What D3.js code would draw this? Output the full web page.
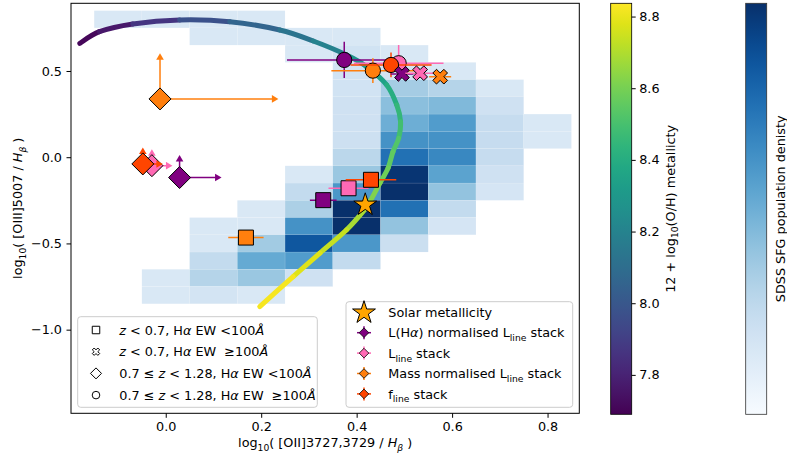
<!DOCTYPE html>
<html>
<head>
<meta charset="utf-8">
<script src="https://cdn.jsdelivr.net/npm/d3@7"></script>
<style>
  body { margin: 0; background: #fff; }
  text { font-family: "DejaVu Sans", sans-serif; }
  .pre { white-space: pre; }
</style>
</head>
<body>
<svg id="chart" width="787" height="458"></svg>
<script>
// ---------- SDSS star-forming galaxy density (2D histogram) ----------
const xBinEdges = [-0.15, -0.05, 0.05, 0.15, 0.25, 0.35, 0.45, 0.55, 0.65, 0.75, 0.85];
const yBinEdges = [0.85, 0.75, 0.65, 0.55, 0.45, 0.35, 0.25, 0.15, 0.05, -0.05, -0.15,
                   -0.25, -0.35, -0.45, -0.55, -0.65, -0.75, -0.85];
// rows run from the top y-bin downwards, columns follow xBinEdges
const sdssDensity = [
  [15, 15, 15, 15,   0,   0,   0,  0,  0,  0],
  [ 0,  0, 15, 15,  15,  15,   0,  0,  0,  0],
  [ 0,  0,  0,  0,  15,  19,  15,  0,  0,  0],
  [ 0,  0,  0,  0,   0,  19,  18, 15,  0,  0],
  [ 0,  0,  0,  0,   0,  19,  35, 30, 15,  0],
  [ 0,  0,  0,  0,   0,  20,  42, 45, 20,  0],
  [ 0,  0,  0,  0,   0,  20,  50, 58, 24, 15],
  [ 0,  0,  0,  0,   0,  21,  62, 62, 24, 15],
  [ 0,  0,  0,  0,   0,  28,  75, 66, 24,  0],
  [ 0,  0,  0,  0,  15,  38,  98, 55, 20,  0],
  [ 0,  0,  0,  0,  25,  60, 100, 40, 17,  0],
  [ 0,  0,  0, 15,  33, 100,  75, 25,  0,  0],
  [ 0,  0, 15, 15,  62, 100,  40, 17,  0,  0],
  [ 0,  0, 15, 36,  85,  60,  22,  0,  0,  0],
  [ 0,  0, 25, 52,  58,  25,   0,  0,  0,  0],
  [ 0, 15, 30, 38,  20,   0,   0,  0,  0,  0],
  [ 0, 15, 18, 15,   0,   0,   0,  0,  0,  0]
];

// ---------- metallicity track ----------
const trackO2 = [-0.180, -0.139, -0.069, 0.029, 0.134, 0.239, 0.309, 0.379, 0.421, 0.463, 0.484,
                 0.492, 0.488, 0.476, 0.466, 0.449, 0.428, 0.418, 0.379, 0.323, 0.267, 0.197];
const trackO3 = [0.660, 0.728, 0.773, 0.796, 0.786, 0.738, 0.674, 0.593, 0.525, 0.419, 0.303,
                 0.206, 0.110, 0.031, -0.062, -0.149, -0.257, -0.300, -0.421, -0.556, -0.692, -0.866];
const trackZ  = [7.69, 7.73, 7.80, 7.93, 8.02, 8.10, 8.16, 8.24, 8.32, 8.38, 8.43,
                 8.47, 8.51, 8.54, 8.57, 8.60, 8.64, 8.66, 8.71, 8.76, 8.80, 8.84];
const zDomain = [7.69, 8.837];
const zTicks = [7.8, 8.0, 8.2, 8.4, 8.6, 8.8];

// ---------- solar metallicity ----------
const solarO2 = 0.418, solarO3 = -0.276;

// ---------- stacks: order = L(Hα) normalised, Lline, mass normalised, fline ----------
const stackKeys = ["haNorm", "lline", "massNorm", "fline"];

// z < 0.7, Hα EW < 100Å (squares)
const sqO2 = [0.330, 0.383, 0.168, 0.430];
const sqO3 = [-0.249, -0.180, -0.466, -0.131];
const sqO2err = [0.028, 0.042, 0.037, 0.053];
const sqO3err = [0.02, 0.02, 0.02, 0.02];

// z < 0.7, Hα EW ≥ 100Å (crosses)
const crKeys = ["haNorm", "lline", "massNorm"];
const crO2 = [0.495, 0.533, 0.575];
const crO3 = [0.483, 0.487, 0.467];
const crO2err = [0.024, 0.031, 0.023];
const crO3err = [0.02, 0.02, 0.02];

// 0.7 ≤ z < 1.28, Hα EW < 100Å (diamonds, lower limits)
const dmO2 = [0.029, -0.029, -0.012, -0.048];
const dmO3 = [-0.118, -0.049, 0.338, -0.039];
const dmO2lim = [0.117, 0.014, 0.236, -0.006];
const dmO3lim = [0.013, 0.046, 0.603, 0.056];

// 0.7 ≤ z < 1.28, Hα EW ≥ 100Å (circles)
const ciO2 = [0.374, 0.488, 0.434, 0.472];
const ciO3 = [0.564, 0.545, 0.502, 0.535];
const ciO2err = [0.120, 0.094, 0.087, 0.085];
const ciO3err = [0.105, 0.106, 0.072, 0.072];

// ---------- axes ----------
const xTicks = [0.0, 0.2, 0.4, 0.6, 0.8];
const yTicks = [0.5, 0.0, -0.5, -1.0];

// ---------- legend text ----------
const sampleLabels = [
  [["z", "i"], [" < 0.7, H", ""], ["α", "i"], [" EW <100", ""], ["Å", "i"]],
  [["z", "i"], [" < 0.7, H", ""], ["α", "i"], [" EW  ≥100", ""], ["Å", "i"]],
  [["0.7 ≤ ", ""], ["z", "i"], [" < 1.28, H", ""], ["α", "i"], [" EW <100", ""], ["Å", "i"]],
  [["0.7 ≤ ", ""], ["z", "i"], [" < 1.28, H", ""], ["α", "i"], [" EW  ≥100", ""], ["Å", "i"]]
];
const sampleShapes = ["square", "cross", "diamond", "circle"];
const stackLabels = [
  [["L(H", ""], ["α", "i"], [") normalised L", ""], ["line", "sub"], [" stack", ""]],
  [["L", ""], ["line", "sub"], [" stack", ""]],
  [["Mass normalised L", ""], ["line", "sub"], [" stack", ""]],
  [["f", ""], ["line", "sub"], [" stack", ""]]
];

// ---------- styling ----------
const colorOf = { haNorm: "#800080", lline: "#ff69b4", massNorm: "#ff7f0e", fline: "#ff4500" };
const FS = 12.8;

const svg = d3.select("#chart");
const plot = { left: 71, right: 579.3, top: 3.3, bottom: 413.3 };
const x = d3.scaleLinear().domain([-0.1985, 0.8665]).range([plot.left, plot.right]);
const y = d3.scaleLinear().domain([-1.485, 0.8925]).range([plot.bottom, plot.top]);
const zColor = d3.scaleSequential(d3.interpolateViridis).domain(zDomain);
const densColor = d3.scaleSequential(d3.interpolateBlues).domain([0, 100]);

function richText(sel, parts, fs) {
  let shift = 0;
  parts.forEach(([t, kind]) => {
    const isSub = kind === "sub" || kind === "isub";
    const ts = sel.append("tspan").attr("class", "pre").text(t);
    const target = isSub ? fs * 0.3 : 0;
    if (target !== shift) { ts.attr("dy", target - shift); shift = target; }
    if (isSub) ts.attr("font-size", fs * 0.72);
    if (kind === "i" || kind === "isub") ts.attr("font-style", "italic");
  });
}

// marker path generators (centred on 0,0)
function diamondPath(h) { return `M0,${-h}L${h},0L0,${h}L${-h},0Z`; }
function squarePath(s) { const h = s / 2; return `M${-h},${-h}H${h}V${h}H${-h}Z`; }
function circlePath(r) { return `M${r},0A${r},${r} 0 1,1 ${-r},0A${r},${r} 0 1,1 ${r},0Z`; }
function crossPath(s) {
  const pts = [[-1,-3],[1,-3],[1,-1],[3,-1],[3,1],[1,1],[1,3],[-1,3],[-1,1],[-3,1],[-3,-1],[-1,-1]];
  const c = Math.SQRT1_2;
  return "M" + pts.map(([a, b]) => [((a - b) * c * s).toFixed(2), ((a + b) * c * s).toFixed(2)].join(",")).join("L") + "Z";
}
function starPath(R) {
  const r = R * 0.381966, p = [];
  for (let i = 0; i < 10; i++) {
    const ang = -Math.PI / 2 + i * Math.PI / 5, rad = i % 2 ? r : R;
    p.push([(rad * Math.cos(ang)).toFixed(2), (rad * Math.sin(ang)).toFixed(2)].join(","));
  }
  return "M" + p.join("L") + "Z";
}
function shapePath(name, scale) {
  if (name === "square") return squarePath(15 * scale);
  if (name === "cross") return crossPath(2.6 * scale);
  if (name === "diamond") return diamondPath(11 * scale);
  return circlePath(7.6 * scale);
}

// ---------- plot area ----------
svg.append("defs").append("clipPath").attr("id", "plotClip")
  .append("rect").attr("x", plot.left).attr("y", plot.top)
  .attr("width", plot.right - plot.left).attr("height", plot.bottom - plot.top);

const gPlot = svg.append("g").attr("clip-path", "url(#plotClip)");

// density histogram
const gHist = gPlot.append("g");
sdssDensity.forEach((row, r) => row.forEach((v, c) => {
  if (v <= 0) return;
  gHist.append("rect")
    .attr("x", x(xBinEdges[c])).attr("width", x(xBinEdges[c + 1]) - x(xBinEdges[c]))
    .attr("y", y(yBinEdges[r])).attr("height", y(yBinEdges[r + 1]) - y(yBinEdges[r]))
    .attr("fill", densColor(v))
    .attr("stroke", "#ffffff").attr("stroke-width", 0.3).attr("stroke-opacity", 0.3);
}));

// metallicity track, coloured piece by piece along Z
const gTrack = gPlot.append("g");
const trackPts = trackO2.map((v, i) => [x(v), y(trackO3[i])]);
for (let i = 0; i < trackPts.length - 1; i++) {
  const p0 = trackPts[Math.max(i - 1, 0)], p1 = trackPts[i], p2 = trackPts[i + 1],
        p3 = trackPts[Math.min(i + 2, trackPts.length - 1)];
  const c1 = [p1[0] + (p2[0] - p0[0]) / 6, p1[1] + (p2[1] - p0[1]) / 6];
  const c2 = [p2[0] - (p3[0] - p1[0]) / 6, p2[1] - (p3[1] - p1[1]) / 6];
  gTrack.append("path")
    .attr("d", `M${p1}C${c1} ${c2} ${p2}`)
    .attr("fill", "none")
    .attr("stroke", zColor((trackZ[i] + trackZ[i + 1]) / 2))
    .attr("stroke-width", 5).attr("stroke-linecap", "round");
}

const gMarks = gPlot.append("g");
function errLine(g, x1, y1, x2, y2, col) {
  g.append("line").attr("x1", x1).attr("y1", y1).attr("x2", x2).attr("y2", y2)
    .attr("stroke", col).attr("stroke-width", 1.5);
}
function marker(g, px, py, d, col) {
  g.append("path").attr("transform", `translate(${px},${py})`).attr("d", d)
    .attr("fill", col).attr("stroke", "#000").attr("stroke-width", 1);
}

// diamonds with lower-limit arrows
dmO2.forEach((v, i) => {
  const col = colorOf[stackKeys[i]], g = gMarks.append("g");
  const px = x(v), py = y(dmO3[i]);
  const tx = x(dmO2lim[i]), ty = y(dmO3lim[i]);
  errLine(g, px, py, px, ty + 5, col);
  errLine(g, px, py, tx - 5, py, col);
  g.append("path").attr("d", `M${px},${ty}L${px + 3.8},${ty + 6.5}L${px - 3.8},${ty + 6.5}Z`).attr("fill", col);
  g.append("path").attr("d", `M${tx},${py}L${tx - 6.5},${py - 3.8}L${tx - 6.5},${py + 3.8}Z`).attr("fill", col);
  marker(g, px, py, shapePath("diamond", 1), col);
});

// circles
ciO2.forEach((v, i) => {
  const col = colorOf[stackKeys[i]], g = gMarks.append("g");
  errLine(g, x(v - ciO2err[i]), y(ciO3[i]), x(v + ciO2err[i]), y(ciO3[i]), col);
  errLine(g, x(v), y(ciO3[i] - ciO3err[i]), x(v), y(ciO3[i] + ciO3err[i]), col);
  marker(g, x(v), y(ciO3[i]), shapePath("circle", 1), col);
});

// squares
sqO2.forEach((v, i) => {
  const col = colorOf[stackKeys[i]], g = gMarks.append("g");
  errLine(g, x(v - sqO2err[i]), y(sqO3[i]), x(v + sqO2err[i]), y(sqO3[i]), col);
  errLine(g, x(v), y(sqO3[i] - sqO3err[i]), x(v), y(sqO3[i] + sqO3err[i]), col);
  marker(g, x(v), y(sqO3[i]), shapePath("square", 1), col);
});

// crosses
crO2.forEach((v, i) => {
  const col = colorOf[crKeys[i]], g = gMarks.append("g");
  errLine(g, x(v - crO2err[i]), y(crO3[i]), x(v + crO2err[i]), y(crO3[i]), col);
  errLine(g, x(v), y(crO3[i] - crO3err[i]), x(v), y(crO3[i] + crO3err[i]), col);
  marker(g, x(v), y(crO3[i]), shapePath("cross", 1), col);
});

// solar metallicity star
marker(gMarks, x(solarO2), y(solarO3), starPath(12), "#ffa500");

// ---------- spines & axes ----------
svg.append("rect").attr("x", plot.left).attr("y", plot.top)
  .attr("width", plot.right - plot.left).attr("height", plot.bottom - plot.top)
  .attr("fill", "none").attr("stroke", "#000").attr("stroke-width", 1);

const fmtTick = d => d3.format(".1f")(d).replace("-", "−");
const xAxis = svg.append("g").attr("transform", `translate(0,${plot.bottom})`)
  .call(d3.axisBottom(x).tickValues(xTicks).tickFormat(fmtTick).tickSize(4.5).tickPadding(4.5).tickSizeOuter(0));
const yAxis = svg.append("g").attr("transform", `translate(${plot.left},0)`)
  .call(d3.axisLeft(y).tickValues(yTicks).tickFormat(fmtTick).tickSize(4.5).tickPadding(4.5).tickSizeOuter(0));
[xAxis, yAxis].forEach(a => {
  a.select(".domain").remove();
  a.selectAll("text").attr("font-size", FS).attr("font-family", "DejaVu Sans").attr("fill", "#000");
  a.selectAll("line").attr("stroke", "#000");
});

const xLab = svg.append("text").attr("x", (plot.left + plot.right) / 2).attr("y", 447)
  .attr("text-anchor", "middle").attr("font-size", FS);
richText(xLab, [["log", ""], ["10", "sub"], ["( [OII]3727,3729 / ", ""], ["H", "i"], ["β", "isub"], [" )", ""]], FS);

const yLab = svg.append("text").attr("transform", `translate(22,${(plot.top + plot.bottom) / 2}) rotate(-90)`)
  .attr("text-anchor", "middle").attr("font-size", FS);
richText(yLab, [["log", ""], ["10", "sub"], ["( [OIII]5007 / ", ""], ["H", "i"], ["β", "isub"], [" )", ""]], FS);

// ---------- legends ----------
function legendBox(x0, y0, w, h) {
  svg.append("rect").attr("x", x0).attr("y", y0).attr("width", w).attr("height", h)
    .attr("rx", 3).attr("fill", "#fff").attr("fill-opacity", 0.8)
    .attr("stroke", "#cccccc").attr("stroke-width", 1);
}

legendBox(77.7, 316.7, 239.6, 90.6);
sampleLabels.forEach((parts, i) => {
  const cy = 330 + i * 21.7;
  svg.append("path").attr("transform", `translate(96,${cy})`).attr("d", shapePath(sampleShapes[i], 0.5))
    .attr("fill", "#fff").attr("stroke", "#000").attr("stroke-width", 1);
  const t = svg.append("text").attr("x", 119.3).attr("y", cy + 4.6).attr("font-size", FS);
  richText(t, parts, FS);
});

legendBox(346, 301.7, 226.7, 105.6);
svg.append("path").attr("transform", `translate(364,312.7)`).attr("d", starPath(12))
  .attr("fill", "#ffa500").attr("stroke", "#000").attr("stroke-width", 1);
svg.append("text").attr("x", 388.3).attr("y", 317.3).attr("font-size", FS).text("Solar metallicity");
stackLabels.forEach((parts, i) => {
  const cy = 332.7 + i * 20.4, col = colorOf[stackKeys[i]];
  errLine(svg, 357, cy, 371, cy, col);
  errLine(svg, 364, cy - 6.5, 364, cy + 6.5, col);
  svg.append("path").attr("transform", `translate(364,${cy})`).attr("d", diamondPath(4.8))
    .attr("fill", col).attr("stroke", "#000").attr("stroke-width", 0.8);
  const t = svg.append("text").attr("x", 388.3).attr("y", cy + 4.6).attr("font-size", FS);
  richText(t, parts, FS);
});

// ---------- colour bars ----------
const defs = svg.select("defs");
const cb = { top: 3.3, bottom: 414.3 };
const gradZ = defs.append("linearGradient").attr("id", "gradZ").attr("x1", 0).attr("y1", 1).attr("x2", 0).attr("y2", 0);
d3.range(0, 1.0001, 0.05).forEach(t => gradZ.append("stop").attr("offset", t).attr("stop-color", d3.interpolateViridis(t)));
const gradD = defs.append("linearGradient").attr("id", "gradD").attr("x1", 0).attr("y1", 1).attr("x2", 0).attr("y2", 0);
d3.range(0, 1.0001, 0.05).forEach(t => gradD.append("stop").attr("offset", t).attr("stop-color", d3.interpolateBlues(t)));

svg.append("rect").attr("x", 610.7).attr("y", cb.top).attr("width", 21).attr("height", cb.bottom - cb.top)
  .attr("fill", "url(#gradZ)").attr("stroke", "#000").attr("stroke-width", 0.8);
const zScale = d3.scaleLinear().domain(zDomain).range([cb.bottom, cb.top]);
const zAxis = svg.append("g").attr("transform", "translate(631.7,0)")
  .call(d3.axisRight(zScale).tickValues(zTicks).tickFormat(d3.format(".1f")).tickSize(4).tickPadding(3.5).tickSizeOuter(0));
zAxis.select(".domain").remove();
zAxis.selectAll("text").attr("font-size", FS).attr("font-family", "DejaVu Sans").attr("fill", "#000");
zAxis.selectAll("line").attr("stroke", "#000");
const zLab = svg.append("text").attr("transform", `translate(674.5,208.8) rotate(-90)`)
  .attr("text-anchor", "middle").attr("font-size", FS);
richText(zLab, [["12 + log", ""], ["10", "sub"], ["(O/H) metallicty", ""]], FS);

svg.append("rect").attr("x", 745.7).attr("y", cb.top).attr("width", 21).attr("height", cb.bottom - cb.top)
  .attr("fill", "url(#gradD)").attr("stroke", "#333").attr("stroke-width", 0.8);
svg.append("text").attr("transform", `translate(785,208.8) rotate(-90)`)
  .attr("text-anchor", "middle").attr("font-size", FS).text("SDSS SFG population denisty");
</script>
</body>
</html>
